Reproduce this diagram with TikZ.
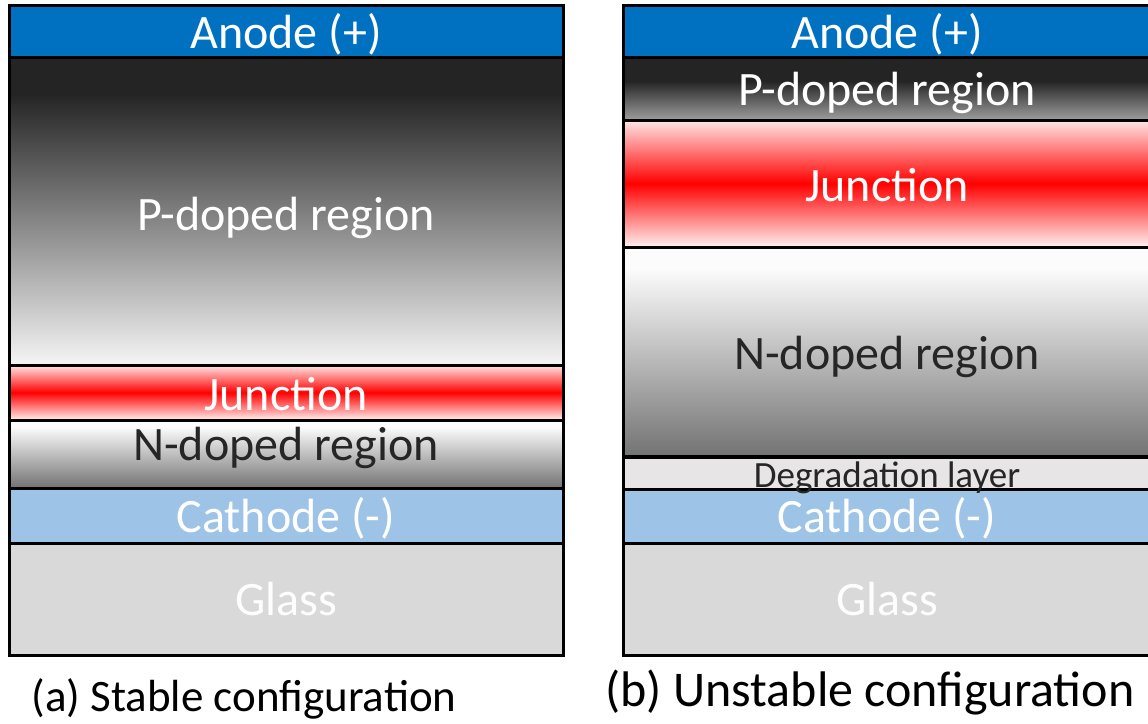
\documentclass[tikz,border=0pt]{standalone}
\usepackage{fontspec}
\setmainfont{Carlito}

\definecolor{anodeblue}{HTML}{0070C0}
\definecolor{cathodeblue}{HTML}{9DC3E6}
\definecolor{glassgray}{HTML}{D9D9D9}
\definecolor{degrgray}{HTML}{E7E5E6}
\definecolor{darktext}{HTML}{262626}
\definecolor{pdark}{HTML}{242424}
\definecolor{plight}{HTML}{F5F5F5}
\definecolor{pmid}{HTML}{9E9E9E}
\definecolor{jtop}{HTML}{FFE6E6}
\definecolor{jbot}{HTML}{FFF0F0}
\definecolor{ntop}{HTML}{FCFCFC}
\definecolor{nbot}{HTML}{727272}

% vertical shadings: 25bp = bottom edge of the layer, 75bp = top edge
\pgfdeclareverticalshading{pthick}{100bp}{color(0bp)=(plight); color(25bp)=(plight); color(69bp)=(pdark); color(100bp)=(pdark)}
\pgfdeclareverticalshading{pthin}{100bp}{color(0bp)=(pmid); color(25bp)=(pmid); color(56bp)=(pdark); color(100bp)=(pdark)}
\pgfdeclareverticalshading{junction}{100bp}{color(0bp)=(jbot); color(25bp)=(jbot); color(50bp)=(red); color(75bp)=(jtop); color(100bp)=(jtop)}
\pgfdeclareverticalshading{ndoped}{100bp}{color(0bp)=(nbot); color(25bp)=(nbot); color(70bp)=(ntop); color(100bp)=(ntop)}

\tikzset{
  border/.style={draw=black, line width=3pt},
  lbl/.style={anchor=base, inner sep=0pt, font=\fontsize{48}{50}\selectfont},
  smalllbl/.style={anchor=base, inner sep=0pt, font=\fontsize{37}{40}\selectfont},
}

\begin{document}
\begin{tikzpicture}[x=1pt, y=-1pt]
\useasboundingbox (0,0) rectangle (1148,723);
\fill[white] (0,0) rectangle (1148,723);

% ---------- (a) stable stack ----------
\fill[anodeblue] (9,5) rectangle (563,57);
\shade[shading=pthick] (9,57) rectangle (563,365);
\shade[shading=junction] (9,365) rectangle (563,420);
\shade[shading=ndoped] (9,420) rectangle (563,488);
\fill[cathodeblue] (9,488) rectangle (563,543);
\fill[glassgray] (9,543) rectangle (563,655);
\draw[border] (9,5) rectangle (563,655);
\foreach \y in {57,365,420,488,543} \draw[border] (9,\y) -- (563,\y);

\node[lbl, text=white] (aanode) at (286,48) {Anode (+)};
\node[lbl, text=white] (apdoped) at (286,230) {P-doped region};
\node[lbl, text=white] (ajunction) at (286,410) {Junction};
\node[lbl, text=darktext] (andoped) at (286,460) {N-doped region};
\node[lbl, text=white] (acathode) at (286,532) {Cathode (-)};
\node[lbl, text=white!95!glassgray] (aglass) at (286,615) {Glass};

% ---------- (b) unstable stack ----------
\fill[anodeblue] (623,5) rectangle (1151,57);
\shade[shading=pthin] (623,57) rectangle (1151,120);
\shade[shading=junction] (623,120) rectangle (1151,247);
\shade[shading=ndoped] (623,247) rectangle (1151,457);
\fill[degrgray] (623,457) rectangle (1151,489);
\fill[cathodeblue] (623,489) rectangle (1151,543);
\fill[glassgray] (623,543) rectangle (1151,655);
\draw[border] (623,5) rectangle (1151,655);
\foreach \y in {57,120,247,489,543} \draw[border] (623,\y) -- (1151,\y);
\draw[draw=black, line width=4pt] (623,457) -- (1151,457);

\node[lbl, text=white] (banode) at (887,48) {Anode (+)};
\node[lbl, text=white] (bpdoped) at (887,105) {P-doped region};
\node[lbl, text=white] (bjunction) at (887,201) {Junction};
\node[lbl, text=darktext] (bndoped) at (887,369) {N-doped region};
\node[smalllbl, text=darktext] (bdegr) at (887,487) {Degradation layer};
\node[lbl, text=white] (bcathode) at (887,532) {Cathode (-)};
\node[lbl, text=white!95!glassgray] (bglass) at (887,615) {Glass};

% ---------- captions ----------
\node[anchor=base, inner sep=0pt, font=\fontsize{45}{48}\selectfont] (capa) at (244,711) {(a) Stable configuration};
\node[anchor=base, inner sep=0pt, font=\fontsize{50}{54}\selectfont] (capb) at (870,706) {(b) Unstable configuration};
\end{tikzpicture}
\end{document}
